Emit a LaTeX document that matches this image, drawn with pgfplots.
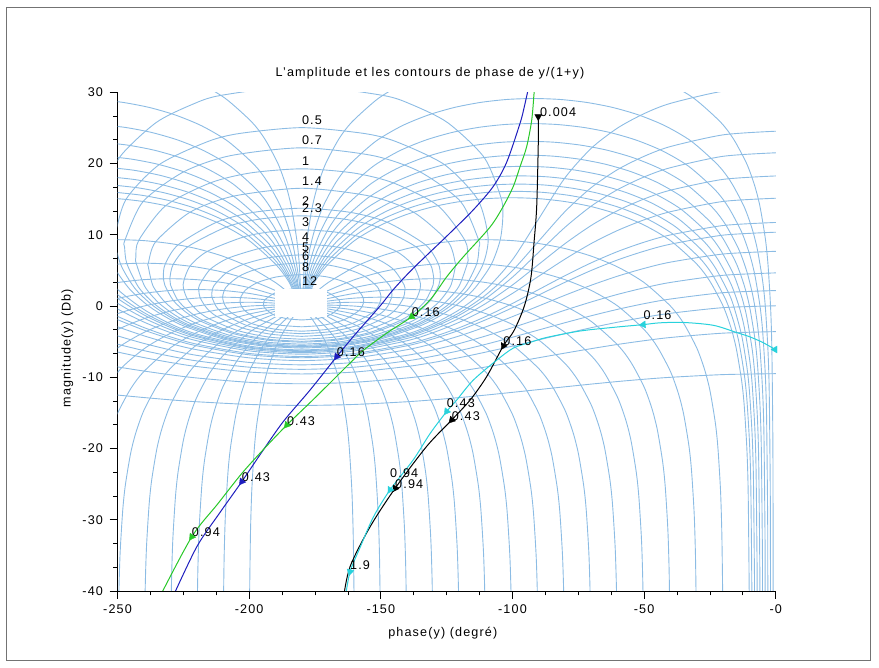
\documentclass[border=0pt]{standalone}
\usepackage{fontspec}
\setmainfont{Liberation Sans}[LetterSpace=9]
\usepackage{pgfplots}
\pgfplotsset{compat=1.18}
\definecolor{gridc}{RGB}{140,188,228}
\definecolor{cblue}{RGB}{30,30,190}
\definecolor{cgreen}{RGB}{40,200,40}
\definecolor{ccyan}{RGB}{40,210,220}
\newcommand\lbl{\fontsize{12.6}{14}\selectfont}
\begin{document}
\begin{tikzpicture}
\path[use as bounding box] (0,0) rectangle (879pt,668pt);
\draw[black!55, line width=0.8pt] (6.7pt,7.6pt) rectangle (870.5pt,660.3pt);
\begin{axis}[
  at={(117.5pt,77pt)}, anchor=south west,
  scale only axis, width=658.3pt, height=498.6pt,
  xmin=-250, xmax=0, ymin=-40, ymax=30,
  axis lines=left,
  axis line style={-, black, line width=0.8pt},
  xtick={-250,-200,-150,-100,-50,0},
  xticklabels={-250,-200,-150,-100,-50,-0},
  ytick={-40,-30,-20,-10,0,10,20,30},
  yticklabels={-40,-30,-20,-10,0,10,20,30},
  minor x tick num=3, minor y tick num=2,
  tick align=outside,
  major tick length=8pt, minor tick length=4.5pt,
  tick style={black, line width=0.8pt},
  ticklabel style={font=\lbl},
  xticklabel style={yshift=-2pt},
  yticklabel style={xshift=-3pt},
  /pgf/number format/assume math mode=true,
  clip=true,
  gc/.style={color=gridc, line width=0.9pt, smooth, tension=0.45, no marks},
  dc/.style={line width=1pt, smooth, tension=0.5, no marks},
  mk/.style={only marks, mark=triangle*, mark size=4pt},
]
% ---- closed-loop gain contours, M > 1
\addplot[gc] coordinates {(-180,-5.90)(-165.22,-5.60)(-150.48,-4.65)(-135.82,-2.89)(-128.58,-1.59)(-121.43,0.12)(-114.48,2.44)(-108.07,5.83)(-104.67,9.28)(-103.67,12.52)(-104.34,15.18)(-110.74,20.86)(-124.65,25.76)(-138.46,28.32)(-149.27,29.58)(-180,30.94)(-210.73,29.58)(-221.54,28.32)(-235.35,25.76)(-249.26,20.86)(-255.66,15.18)(-256.33,12.52)(-255.33,9.28)(-251.93,5.83)(-245.52,2.44)(-238.57,0.12)(-231.42,-1.59)(-224.18,-2.89)(-209.52,-4.65)(-194.78,-5.60)(-180,-5.90)};
\addplot[gc] coordinates {(-180,-5.77)(-165.44,-5.47)(-150.95,-4.53)(-136.65,-2.77)(-129.65,-1.47)(-122.86,0.24)(-116.47,2.55)(-111.13,5.92)(-109.26,9.64)(-113.21,14.97)(-125.89,19.87)(-144.08,23.07)(-156.29,24.23)(-180,25.05)(-203.71,24.23)(-215.92,23.07)(-234.11,19.87)(-246.79,14.97)(-250.74,9.64)(-248.87,5.92)(-243.53,2.55)(-237.14,0.24)(-230.35,-1.47)(-223.35,-2.77)(-209.05,-4.53)(-194.56,-5.47)(-180,-5.77)};
\addplot[gc] coordinates {(-180,-5.68)(-165.62,-5.38)(-151.34,-4.43)(-137.30,-2.67)(-130.50,-1.38)(-124.00,0.32)(-118.05,2.62)(-113.55,5.97)(-112.70,8.27)(-112.87,9.31)(-119.72,14.68)(-135.19,18.86)(-152.80,21.11)(-180,22.22)(-207.20,21.11)(-224.81,18.86)(-240.28,14.68)(-247.13,9.31)(-247.30,8.27)(-246.45,5.97)(-241.95,2.62)(-236.00,0.32)(-229.50,-1.38)(-222.70,-2.67)(-208.66,-4.43)(-194.38,-5.38)(-180,-5.68)};
\addplot[gc] coordinates {(-180,-5.53)(-165.88,-5.23)(-151.90,-4.29)(-138.29,-2.54)(-131.78,-1.25)(-125.69,0.44)(-120.41,2.73)(-117.10,6.01)(-116.97,6.87)(-118.06,9.23)(-128.32,14.10)(-145.29,17.30)(-160.47,18.69)(-180,19.27)(-199.53,18.69)(-214.71,17.30)(-231.68,14.10)(-241.94,9.23)(-243.03,6.87)(-242.90,6.01)(-239.59,2.73)(-234.31,0.44)(-228.22,-1.25)(-221.71,-2.54)(-208.10,-4.29)(-194.12,-5.23)(-180,-5.53)};
\addplot[gc] coordinates {(-180,-5.35)(-166.23,-5.05)(-152.66,-4.11)(-139.60,-2.37)(-133.48,-1.09)(-127.93,0.59)(-123.49,2.83)(-121.66,5.60)(-121.70,6.02)(-124.52,9.04)(-137.59,13.19)(-154.00,15.43)(-180,16.54)(-206.00,15.43)(-222.41,13.19)(-235.48,9.04)(-238.30,6.02)(-238.34,5.60)(-236.51,2.83)(-232.07,0.59)(-226.52,-1.09)(-220.40,-2.37)(-207.34,-4.11)(-193.77,-5.05)(-180,-5.35)};
\addplot[gc] coordinates {(-180,-5.08)(-166.76,-4.78)(-153.79,-3.85)(-141.54,-2.12)(-136.00,-0.86)(-131.23,0.77)(-127.97,2.94)(-127.42,4.33)(-128.16,5.93)(-133.02,8.60)(-147.65,11.78)(-161.65,13.16)(-180,13.74)(-198.35,13.16)(-212.35,11.78)(-226.98,8.60)(-231.84,5.93)(-232.58,4.33)(-232.03,2.94)(-228.77,0.77)(-224.00,-0.86)(-218.46,-2.12)(-206.21,-3.85)(-193.24,-4.78)(-180,-5.08)};
\addplot[gc] coordinates {(-180,-4.95)(-167.02,-4.65)(-154.35,-3.72)(-142.50,-2.01)(-137.23,-0.76)(-132.85,0.85)(-130.12,2.98)(-129.88,3.86)(-131.16,5.85)(-136.74,8.34)(-151.39,11.11)(-164.15,12.22)(-180,12.67)(-195.85,12.22)(-208.61,11.11)(-223.26,8.34)(-228.84,5.85)(-230.12,3.86)(-229.88,2.98)(-227.15,0.85)(-222.77,-0.76)(-217.50,-2.01)(-205.65,-3.72)(-192.98,-4.65)(-180,-4.95)};
\addplot[gc] coordinates {(-180,-4.65)(-167.62,-4.36)(-155.64,-3.44)(-144.70,-1.76)(-140.06,-0.55)(-136.50,1.01)(-134.93,3.02)(-137.54,5.61)(-144.12,7.68)(-157.91,9.71)(-168.18,10.43)(-180,10.69)(-191.82,10.43)(-202.09,9.71)(-215.88,7.68)(-222.46,5.61)(-225.07,3.02)(-223.50,1.01)(-219.94,-0.55)(-215.30,-1.76)(-204.36,-3.44)(-192.38,-4.36)(-180,-4.65)};
\addplot[gc] coordinates {(-180,-4.25)(-168.47,-3.96)(-157.45,-3.07)(-147.75,-1.46)(-143.93,-0.30)(-141.40,1.15)(-140.88,2.20)(-141.14,2.96)(-145.18,5.15)(-152.07,6.73)(-163.86,8.09)(-171.58,8.51)(-180,8.66)(-188.42,8.51)(-196.14,8.09)(-207.93,6.73)(-214.82,5.15)(-218.86,2.96)(-219.12,2.20)(-218.60,1.15)(-216.07,-0.30)(-212.25,-1.46)(-202.55,-3.07)(-191.53,-3.96)(-180,-4.25)};
\addplot[gc] coordinates {(-180,-3.88)(-169.29,-3.60)(-159.19,-2.74)(-150.65,-1.19)(-147.55,-0.11)(-145.88,1.23)(-145.78,1.65)(-146.57,2.83)(-151.27,4.66)(-157.81,5.86)(-167.66,6.81)(-180,7.18)(-192.34,6.81)(-202.19,5.86)(-208.73,4.66)(-213.43,2.83)(-214.22,1.65)(-214.12,1.23)(-212.45,-0.11)(-209.35,-1.19)(-200.81,-2.74)(-190.71,-3.60)(-180,-3.88)};
\addplot[gc] coordinates {(-180,-3.53)(-170.09,-3.26)(-160.86,-2.44)(-153.38,-0.97)(-150.91,0.04)(-149.92,1.26)(-151.23,2.66)(-156.11,4.17)(-162.05,5.10)(-170.25,5.78)(-180,6.04)(-189.75,5.78)(-197.95,5.10)(-203.89,4.17)(-208.77,2.66)(-210.08,1.26)(-209.09,0.04)(-206.62,-0.97)(-199.14,-2.44)(-189.91,-3.26)(-180,-3.53)};
\addplot[gc] coordinates {(-180,-2.91)(-171.58,-2.67)(-163.96,-1.92)(-158.30,-0.64)(-156.79,0.21)(-156.54,0.75)(-156.71,1.19)(-158.61,2.25)(-163.10,3.29)(-170.50,4.10)(-180,4.41)(-189.50,4.10)(-196.90,3.29)(-201.39,2.25)(-203.29,1.19)(-203.46,0.75)(-203.21,0.21)(-201.70,-0.64)(-196.04,-1.92)(-188.42,-2.67)(-180,-2.91)};
\addplot[gc] coordinates {(-180,-1.95)(-174.11,-1.76)(-169.06,-1.19)(-165.90,-0.27)(-165.45,0.28)(-166.03,0.91)(-170.88,2.02)(-180,2.51)(-189.12,2.02)(-193.97,0.91)(-194.55,0.28)(-194.10,-0.27)(-190.94,-1.19)(-185.89,-1.76)(-180,-1.95)};
% ---- closed-loop gain contours, M < 1
\addplot[gc] coordinates {(-260,6.51)(-250,2.36)(-240,-0.47)(-230,-2.48)(-220,-3.92)(-200,-5.62)(-180,-6.15)(-160,-5.62)(-140,-3.92)(-130,-2.48)(-120,-0.47)(-110,2.36)(-100,6.51)(-90,12.27)(-80,18.04)(-70,22.18)(-60,25.02)(-50,27.02)(-40,28.46)(-20,30.17)(0,30.69)};
\addplot[gc] coordinates {(-260,4.98)(-250,1.61)(-240,-0.91)(-230,-2.76)(-220,-4.13)(-200,-5.77)(-180,-6.27)(-160,-5.77)(-140,-4.13)(-130,-2.76)(-120,-0.91)(-110,1.61)(-100,4.98)(-90,9.14)(-80,13.29)(-70,16.66)(-60,19.18)(-50,21.03)(-40,22.40)(-20,24.04)(0,24.55)};
\addplot[gc] coordinates {(-260,4.06)(-250,1.09)(-240,-1.23)(-230,-2.98)(-220,-4.29)(-200,-5.88)(-180,-6.38)(-160,-5.88)(-140,-4.29)(-130,-2.98)(-120,-1.23)(-110,1.09)(-100,4.06)(-90,7.57)(-80,11.08)(-70,14.06)(-60,16.37)(-50,18.13)(-40,19.43)(-20,21.03)(0,21.52)};
\addplot[gc] coordinates {(-260,2.96)(-250,0.40)(-240,-1.68)(-230,-3.30)(-220,-4.54)(-200,-6.06)(-180,-6.54)(-160,-6.06)(-140,-4.54)(-130,-3.30)(-120,-1.68)(-110,0.40)(-100,2.96)(-90,5.87)(-80,8.78)(-70,11.34)(-60,13.42)(-50,15.04)(-40,16.27)(-20,17.79)(0,18.27)};
\addplot[gc] coordinates {(-260,1.78)(-250,-0.40)(-240,-2.24)(-230,-3.71)(-220,-4.86)(-200,-6.29)(-180,-6.75)(-160,-6.29)(-140,-4.86)(-130,-3.71)(-120,-2.24)(-110,-0.40)(-100,1.78)(-90,4.20)(-80,6.61)(-70,8.80)(-60,10.63)(-50,12.11)(-40,13.25)(-20,14.69)(0,15.14)};
\addplot[gc] coordinates {(-260,0.37)(-250,-1.44)(-240,-3.01)(-230,-4.31)(-220,-5.34)(-200,-6.65)(-180,-7.08)(-160,-6.65)(-140,-5.34)(-130,-4.31)(-120,-3.01)(-110,-1.44)(-100,0.37)(-90,2.33)(-80,4.28)(-70,6.09)(-60,7.67)(-50,8.97)(-40,9.99)(-20,11.31)(0,11.74)};
\addplot[gc] coordinates {(-260,-0.23)(-250,-1.90)(-240,-3.37)(-230,-4.59)(-220,-5.57)(-200,-6.84)(-180,-7.25)(-160,-6.84)(-140,-5.57)(-130,-4.59)(-120,-3.37)(-110,-1.90)(-100,-0.23)(-90,1.56)(-80,3.35)(-70,5.02)(-60,6.49)(-50,7.71)(-40,8.69)(-20,9.96)(0,10.37)};
\addplot[gc] coordinates {(-260,-1.48)(-250,-2.90)(-240,-4.17)(-230,-5.25)(-220,-6.12)(-200,-7.27)(-180,-7.65)(-160,-7.27)(-140,-6.12)(-130,-5.25)(-120,-4.17)(-110,-2.90)(-100,-1.48)(-90,0.02)(-80,1.53)(-70,2.94)(-60,4.21)(-50,5.29)(-40,6.17)(-20,7.31)(0,7.69)};
\addplot[gc] coordinates {(-260,-3.02)(-250,-4.18)(-240,-5.24)(-230,-6.15)(-220,-6.91)(-200,-7.91)(-180,-8.25)(-160,-7.91)(-140,-6.91)(-130,-6.15)(-120,-5.24)(-110,-4.18)(-100,-3.02)(-90,-1.80)(-80,-0.57)(-70,0.59)(-60,1.65)(-50,2.56)(-40,3.32)(-20,4.32)(0,4.66)};
\addplot[gc] coordinates {(-260,-4.37)(-250,-5.35)(-240,-6.25)(-230,-7.03)(-220,-7.69)(-200,-8.58)(-180,-8.88)(-160,-8.58)(-140,-7.69)(-130,-7.03)(-120,-6.25)(-110,-5.35)(-100,-4.37)(-90,-3.35)(-80,-2.33)(-70,-1.35)(-60,-0.45)(-50,0.34)(-40,0.99)(-20,1.88)(0,2.18)};
\addplot[gc] coordinates {(-260,-5.62)(-250,-6.45)(-240,-7.23)(-230,-7.91)(-220,-8.48)(-200,-9.26)(-180,-9.53)(-160,-9.26)(-140,-8.48)(-130,-7.91)(-120,-7.23)(-110,-6.45)(-100,-5.62)(-90,-4.74)(-80,-3.87)(-70,-3.03)(-60,-2.26)(-50,-1.58)(-40,-1.01)(-20,-0.22)(0,0.04)};
\addplot[gc] coordinates {(-260,-7.90)(-250,-8.54)(-240,-9.12)(-230,-9.64)(-220,-10.09)(-200,-10.70)(-180,-10.91)(-160,-10.70)(-140,-10.09)(-130,-9.64)(-120,-9.12)(-110,-8.54)(-100,-7.90)(-90,-7.25)(-80,-6.60)(-70,-5.97)(-60,-5.38)(-50,-4.86)(-40,-4.41)(-20,-3.80)(0,-3.59)};
\addplot[gc] coordinates {(-260,-12.11)(-250,-12.49)(-240,-12.84)(-230,-13.16)(-220,-13.43)(-200,-13.81)(-180,-13.95)(-160,-13.81)(-140,-13.43)(-130,-13.16)(-120,-12.84)(-110,-12.49)(-100,-12.11)(-90,-11.72)(-80,-11.33)(-70,-10.95)(-60,-10.59)(-50,-10.27)(-40,-10.00)(-20,-9.62)(0,-9.49)};
% ---- closed-loop phase contours
\addplot[gc] coordinates {(-1.005,-46)(-1.01,-40)(-1.1,-20)(-1.5,-6.02)(-2,0)(-3,6.02)(-4,9.54)(-6,13.97)(-8,16.88)(-11,19.95)(-16,23.42)(-21,25.84)(-31,29.14)(-41,31.32)(-51,32.84)(-61,33.91)(-71,34.62)(-81,35.03)(-91,35.16)(-101,35.03)(-111,34.62)(-121,33.91)(-131,32.84)(-141,31.32)(-151,29.14)(-161,25.84)(-166,23.42)(-171,19.95)(-174,16.88)(-176,13.97)(-178,9.54)(-179,6.02)(-180,0)(-181,6.02)(-182,9.54)(-184,13.97)(-186,16.88)(-189,19.95)(-194,23.42)(-199,25.84)(-209,29.14)(-219,31.32)(-229,32.84)};
\addplot[gc] coordinates {(-2.01,-46.02)(-2.02,-40)(-2.1,-26.02)(-2.5,-12.04)(-3,-6.02)(-4,0)(-5,3.52)(-7,7.95)(-9,10.86)(-12,13.93)(-17,17.40)(-22,19.82)(-32,23.12)(-42,25.30)(-52,26.82)(-62,27.89)(-72,28.60)(-82,29.01)(-92,29.14)(-102,29.01)(-112,28.60)(-122,27.89)(-132,26.82)(-142,25.30)(-152,23.12)(-162,19.82)(-167,17.40)(-172,13.93)(-175,10.86)(-177,7.95)(-179,3.52)(-180,0)(-181,3.52)(-183,7.95)(-185,10.86)(-188,13.93)(-193,17.40)(-198,19.82)(-208,23.12)(-218,25.30)(-228,26.82)(-238,27.89)(-248,28.60)(-258,29.01)};
\addplot[gc] coordinates {(-3.02,-43.52)(-3.05,-35.56)(-3.1,-29.54)(-3.5,-15.56)(-4,-9.54)(-5,-3.52)(-6,0)(-8,4.43)(-10,7.34)(-13,10.41)(-18,13.88)(-23,16.30)(-33,19.60)(-43,21.78)(-53,23.30)(-63,24.37)(-73,25.08)(-83,25.49)(-93,25.62)(-103,25.49)(-113,25.08)(-123,24.37)(-133,23.30)(-143,21.78)(-153,19.60)(-163,16.30)(-168,13.88)(-173,10.41)(-176,7.34)(-178,4.43)(-180,0)(-182,4.43)(-184,7.34)(-187,10.41)(-192,13.88)(-197,16.30)(-207,19.60)(-217,21.78)(-227,23.30)(-237,24.37)(-247,25.08)(-257,25.49)};
\addplot[gc] coordinates {(-4.02,-46.01)(-4.05,-38.05)(-4.1,-32.03)(-4.5,-18.05)(-5,-12.03)(-6,-6.01)(-7,-2.49)(-8,0)(-9,1.94)(-11,4.85)(-14,7.92)(-19,11.39)(-24,13.81)(-34,17.11)(-44,19.29)(-54,20.81)(-64,21.88)(-74,22.59)(-84,23.00)(-94,23.13)(-104,23.00)(-114,22.59)(-124,21.88)(-134,20.81)(-144,19.29)(-154,17.11)(-164,13.81)(-169,11.39)(-174,7.92)(-177,4.85)(-179,1.94)(-180,0)(-181,1.94)(-183,4.85)(-186,7.92)(-191,11.39)(-196,13.81)(-206,17.11)(-216,19.29)(-226,20.81)(-236,21.88)(-246,22.59)(-256,23.00)};
\addplot[gc] coordinates {(-5.02,-47.95)(-5.05,-39.99)(-5.1,-33.97)(-5.5,-19.99)(-6,-13.97)(-7,-7.95)(-8,-4.43)(-10,0)(-12,2.91)(-15,5.98)(-20,9.45)(-25,11.87)(-35,15.17)(-45,17.35)(-55,18.87)(-65,19.94)(-75,20.65)(-85,21.06)(-95,21.19)(-105,21.06)(-115,20.65)(-125,19.94)(-135,18.87)(-145,17.35)(-155,15.17)(-165,11.87)(-170,9.45)(-175,5.98)(-178,2.91)(-180,0)(-182,2.91)(-185,5.98)(-190,9.45)(-195,11.87)(-205,15.17)(-215,17.35)(-225,18.87)(-235,19.94)(-245,20.65)(-255,21.06)};
\addplot[gc] coordinates {(-6.03,-46.0)(-6.06,-40)(-6.1,-35.54)(-6.5,-21.56)(-7,-15.54)(-8,-9.52)(-9,-6.00)(-11,-1.57)(-12,0)(-13,1.34)(-16,4.41)(-21,7.88)(-26,10.30)(-36,13.60)(-46,15.78)(-56,17.30)(-66,18.37)(-76,19.08)(-86,19.49)(-96,19.62)(-106,19.49)(-116,19.08)(-126,18.37)(-136,17.30)(-146,15.78)(-156,13.60)(-166,10.30)(-171,7.88)(-176,4.41)(-179,1.34)(-180,0)(-181,1.34)(-184,4.41)(-189,7.88)(-194,10.30)(-204,13.60)(-214,15.78)(-224,17.30)(-234,18.37)(-244,19.08)(-254,19.49)};
\addplot[gc] coordinates {(-7.03,-47.34)(-7.07,-40)(-7.1,-36.88)(-7.5,-22.90)(-8,-16.88)(-9,-10.86)(-10,-7.34)(-12,-2.91)(-14,0)(-17,3.07)(-22,6.54)(-27,8.96)(-37,12.26)(-47,14.44)(-57,15.96)(-67,17.03)(-77,17.74)(-87,18.15)(-97,18.28)(-107,18.15)(-117,17.74)(-127,17.03)(-137,15.96)(-147,14.44)(-157,12.26)(-167,8.96)(-172,6.54)(-177,3.07)(-180,0)(-183,3.07)(-188,6.54)(-193,8.96)(-203,12.26)(-213,14.44)(-223,15.96)(-233,17.03)(-243,17.74)(-253,18.15)};
\addplot[gc] coordinates {(-8.03,-48.49)(-8.08,-40)(-8.1,-38.03)(-8.5,-24.05)(-9,-18.03)(-10,-12.01)(-11,-8.49)(-13,-4.06)(-16,0)(-18,1.92)(-23,5.39)(-28,7.81)(-38,11.11)(-48,13.29)(-58,14.81)(-68,15.88)(-78,16.59)(-88,17.00)(-98,17.13)(-108,17.00)(-118,16.59)(-128,15.88)(-138,14.81)(-148,13.29)(-158,11.11)(-168,7.81)(-173,5.39)(-178,1.92)(-180,0)(-182,1.92)(-187,5.39)(-192,7.81)(-202,11.11)(-212,13.29)(-222,14.81)(-232,15.88)(-242,16.59)(-252,17.00)};
\addplot[gc] coordinates {(-9.03,-49.51)(-9.09,-40)(-9.5,-25.07)(-10,-19.05)(-11,-13.03)(-12,-9.51)(-14,-5.08)(-16,-2.17)(-18,0)(-19,0.90)(-24,4.37)(-29,6.79)(-39,10.09)(-49,12.27)(-59,13.79)(-69,14.86)(-79,15.57)(-89,15.98)(-99,16.11)(-109,15.98)(-119,15.57)(-129,14.86)(-139,13.79)(-149,12.27)(-159,10.09)(-169,6.79)(-174,4.37)(-179,0.90)(-180,0)(-181,0.90)(-186,4.37)(-191,6.79)(-201,10.09)(-211,12.27)(-221,13.79)(-231,14.86)(-241,15.57)(-251,15.98)};
\addplot[gc] coordinates {(-10.05,-45.97)(-10.1,-39.95)(-10.5,-25.97)(-11,-19.95)(-12,-13.93)(-13,-10.41)(-15,-5.98)(-17,-3.07)(-20,0)(-25,3.47)(-30,5.89)(-40,9.19)(-50,11.37)(-60,12.89)(-70,13.96)(-80,14.67)(-90,15.08)(-100,15.21)(-110,15.08)(-120,14.67)(-130,13.96)(-140,12.89)(-150,11.37)(-160,9.19)(-170,5.89)(-175,3.47)(-180,0)(-185,3.47)(-190,5.89)(-200,9.19)(-210,11.37)(-220,12.89)(-230,13.96)(-240,14.67)(-250,15.08)(-260,15.21)};
\addplot[gc] coordinates {(-20.1,-45.84)(-20.2,-39.82)(-20.5,-31.86)(-21,-25.84)(-22,-19.82)(-23,-16.30)(-25,-11.87)(-27,-8.96)(-30,-5.89)(-35,-2.42)(-40,0)(-50,3.30)(-60,5.48)(-70,7.00)(-80,8.07)(-90,8.78)(-100,9.19)(-110,9.32)(-120,9.19)(-130,8.78)(-140,8.07)(-150,7.00)(-160,5.48)(-170,3.30)(-175,1.84)(-178,0.79)(-180,0)(-182,0.79)(-185,1.84)(-190,3.30)(-200,5.48)(-210,7.00)(-220,8.07)(-230,8.78)(-240,9.19)(-250,9.32)(-260,9.19)};
\addplot[gc] coordinates {(-30.2,-43.12)(-30.5,-35.16)(-31,-29.14)(-32,-23.12)(-33,-19.60)(-35,-15.17)(-37,-12.26)(-40,-9.19)(-45,-5.72)(-50,-3.30)(-60,0)(-70,2.18)(-80,3.70)(-90,4.77)(-100,5.48)(-110,5.89)(-120,6.02)(-130,5.89)(-140,5.48)(-150,4.77)(-160,3.70)(-170,2.18)(-175,1.19)(-180,0)(-185,1.19)(-190,2.18)(-200,3.70)(-210,4.77)(-220,5.48)(-230,5.89)(-240,6.02)(-250,5.89)(-260,5.48)};
\addplot[gc] coordinates {(-40.2,-45.30)(-40.5,-37.34)(-41,-31.32)(-42,-25.30)(-43,-21.78)(-45,-17.35)(-47,-14.44)(-50,-11.37)(-55,-7.90)(-60,-5.48)(-70,-2.18)(-80,0)(-90,1.52)(-100,2.59)(-110,3.30)(-120,3.71)(-130,3.84)(-140,3.71)(-150,3.30)(-160,2.59)(-170,1.52)(-175,0.83)(-180,0)(-185,0.83)(-190,1.52)(-200,2.59)(-210,3.30)(-220,3.71)(-230,3.84)(-240,3.71)(-250,3.30)(-260,2.59)};
\addplot[gc] coordinates {(-50.2,-46.82)(-50.5,-38.86)(-51,-32.84)(-52,-26.82)(-53,-23.30)(-55,-18.87)(-57,-15.96)(-60,-12.89)(-65,-9.42)(-70,-7.00)(-80,-3.70)(-90,-1.52)(-100,0)(-110,1.07)(-120,1.78)(-130,2.19)(-140,2.32)(-150,2.19)(-160,1.78)(-170,1.07)(-175,0.59)(-180,0)(-185,0.59)(-190,1.07)(-200,1.78)(-210,2.19)(-220,2.32)(-230,2.19)(-240,1.78)(-250,1.07)(-260,0)};
\addplot[gc] coordinates {(-60.2,-47.89)(-60.5,-39.93)(-61,-33.91)(-62,-27.89)(-63,-24.37)(-65,-19.94)(-67,-17.03)(-70,-13.96)(-75,-10.49)(-80,-8.07)(-90,-4.77)(-100,-2.59)(-110,-1.07)(-120,0)(-130,0.71)(-140,1.12)(-150,1.25)(-160,1.12)(-170,0.71)(-175,0.40)(-180,0)(-185,0.40)(-190,0.71)(-200,1.12)(-210,1.25)(-220,1.12)(-230,0.71)(-240,0)(-250,-1.07)(-260,-2.59)};
\addplot[gc] coordinates {(-70.2,-48.60)(-70.5,-40.64)(-71,-34.62)(-72,-28.60)(-73,-25.08)(-75,-20.65)(-77,-17.74)(-80,-14.67)(-85,-11.20)(-90,-8.78)(-100,-5.48)(-110,-3.30)(-120,-1.78)(-130,-0.71)(-140,0)(-150,0.41)(-160,0.54)(-170,0.41)(-180,0)(-190,0.41)(-200,0.54)(-210,0.41)(-220,0)(-230,-0.71)(-240,-1.78)(-250,-3.30)(-260,-5.48)};
\addplot[gc] coordinates {(-80.2,-49.01)(-80.5,-41.05)(-81,-35.03)(-82,-29.01)(-83,-25.49)(-85,-21.06)(-87,-18.15)(-90,-15.08)(-95,-11.61)(-100,-9.19)(-110,-5.89)(-120,-3.71)(-130,-2.19)(-140,-1.12)(-150,-0.41)(-160,0)(-170,0.13)(-180,0)(-190,0.13)(-200,0)(-210,-0.41)(-220,-1.12)(-230,-2.19)(-240,-3.71)(-250,-5.89)(-260,-9.19)};
\addplot[gc] coordinates {(-90.2,-49.14)(-90.5,-41.18)(-91,-35.16)(-92,-29.14)(-93,-25.62)(-95,-21.19)(-97,-18.28)(-100,-15.21)(-105,-11.74)(-110,-9.32)(-120,-6.02)(-130,-3.84)(-140,-2.32)(-150,-1.25)(-160,-0.54)(-170,-0.13)(-180,0)(-190,-0.13)(-200,-0.54)(-210,-1.25)(-220,-2.32)(-230,-3.84)(-240,-6.02)(-250,-9.32)(-260,-15.21)};
\addplot[gc] coordinates {(-100.2,-49.01)(-100.5,-41.05)(-101,-35.03)(-102,-29.01)(-103,-25.49)(-105,-21.06)(-107,-18.15)(-110,-15.08)(-115,-11.61)(-120,-9.19)(-130,-5.89)(-140,-3.71)(-150,-2.19)(-160,-1.12)(-170,-0.41)(-175,-0.17)(-180,0)(-185,-0.17)(-190,-0.41)(-200,-1.12)(-210,-2.19)(-220,-3.71)(-230,-5.89)(-240,-9.19)(-245,-11.61)(-250,-15.08)(-253,-18.15)(-255,-21.06)};
\addplot[gc] coordinates {(-110.2,-48.60)(-110.5,-40.64)(-111,-34.62)(-112,-28.60)(-113,-25.08)(-115,-20.65)(-117,-17.74)(-120,-14.67)(-125,-11.20)(-130,-8.78)(-140,-5.48)(-150,-3.30)(-160,-1.78)(-170,-0.71)(-175,-0.31)(-180,0)(-185,-0.31)(-190,-0.71)(-200,-1.78)(-210,-3.30)(-220,-5.48)(-230,-8.78)(-235,-11.20)(-240,-14.67)(-243,-17.74)(-245,-20.65)(-247,-25.08)(-248,-28.60)(-249,-34.62)(-249.5,-40.64)(-249.8,-48.60)};
\addplot[gc] coordinates {(-120.2,-47.89)(-120.5,-39.93)(-121,-33.91)(-122,-27.89)(-123,-24.37)(-125,-19.94)(-127,-17.03)(-130,-13.96)(-135,-10.49)(-140,-8.07)(-150,-4.77)(-160,-2.59)(-170,-1.07)(-175,-0.48)(-180,0)(-185,-0.48)(-190,-1.07)(-200,-2.59)(-210,-4.77)(-220,-8.07)(-225,-10.49)(-230,-13.96)(-233,-17.03)(-235,-19.94)(-237,-24.37)(-238,-27.89)(-239,-33.91)(-239.5,-39.93)(-239.8,-47.89)};
\addplot[gc] coordinates {(-130.2,-46.82)(-130.5,-38.86)(-131,-32.84)(-132,-26.82)(-133,-23.30)(-135,-18.87)(-137,-15.96)(-140,-12.89)(-145,-9.42)(-150,-7.00)(-160,-3.70)(-170,-1.52)(-175,-0.69)(-180,0)(-185,-0.69)(-190,-1.52)(-200,-3.70)(-210,-7.00)(-215,-9.42)(-220,-12.89)(-223,-15.96)(-225,-18.87)(-227,-23.30)(-228,-26.82)(-229,-32.84)(-229.5,-38.86)(-229.8,-46.82)};
\addplot[gc] coordinates {(-140.2,-45.30)(-140.5,-37.34)(-141,-31.32)(-142,-25.30)(-143,-21.78)(-145,-17.35)(-147,-14.44)(-150,-11.37)(-155,-7.90)(-160,-5.48)(-165,-3.64)(-170,-2.18)(-175,-0.99)(-180,0)(-185,-0.99)(-190,-2.18)(-195,-3.64)(-200,-5.48)(-205,-7.90)(-210,-11.37)(-213,-14.44)(-215,-17.35)(-217,-21.78)(-218,-25.30)(-219,-31.32)(-219.5,-37.34)(-219.8,-45.30)};
\addplot[gc] coordinates {(-150.2,-43.12)(-150.5,-35.16)(-151,-29.14)(-152,-23.12)(-153,-19.60)(-155,-15.17)(-157,-12.26)(-160,-9.19)(-165,-5.72)(-170,-3.30)(-175,-1.46)(-180,0)(-185,-1.46)(-190,-3.30)(-195,-5.72)(-200,-9.19)(-203,-12.26)(-205,-15.17)(-207,-19.60)(-208,-23.12)(-209,-29.14)(-209.5,-35.16)(-209.8,-43.12)};
\addplot[gc] coordinates {(-160.1,-45.84)(-160.2,-39.82)(-160.5,-31.86)(-161,-25.84)(-162,-19.82)(-163,-16.30)(-165,-11.87)(-167,-8.96)(-170,-5.89)(-172,-4.32)(-175,-2.42)(-178,-0.88)(-180,0)(-182,-0.88)(-185,-2.42)(-188,-4.32)(-190,-5.89)(-193,-8.96)(-195,-11.87)(-197,-16.30)(-198,-19.82)(-199,-25.84)(-199.5,-31.86)(-199.8,-39.82)(-199.9,-45.84)};
% ---- blank centre
\fill[white] (axis cs:-190.3,2.4) rectangle (axis cs:-170.6,-1.5);
% ---- gain labels
\foreach \g/\t in {25.05/0.5,22.22/0.7,19.27/1,16.54/1.4,13.74/2,12.67/2.3,10.69/3,8.66/4,7.18/5,6.04/6,4.41/8,2.51/12}{
  \edef\temp{\noexpand\node[anchor=base west, inner sep=0pt, yshift=3pt, font=\noexpand\lbl] at (axis cs:-180,\g) {\t};}
  \temp
}
% ---- data curves
\addplot[dc, cblue] coordinates {(-229.2,-41)(-219.9,-33.8)(-211.5,-29.2)(-202.8,-24.65)(-195,-20.4)(-187,-16.2)(-176.9,-11.8)(-166.75,-7.1)(-159.8,-4.0)(-150.3,0)(-145.3,2.3)(-137.7,5.3)(-125,9.8)(-114.9,13.5)(-107.3,16.8)(-102.2,20.2)(-97.1,25.7)(-95.5,28)(-94,30.5)};
\addplot[dc, cgreen] coordinates {(-234.2,-41)(-221.8,-32.4)(-212,-27.8)(-202.8,-23.5)(-194,-19.9)(-185.7,-16.7)(-177,-13.6)(-169.3,-10.8)(-161.7,-8.0)(-156.6,-6.2)(-147,-3.6)(-138.3,-1.5)(-131,1.0)(-125,4.1)(-118.7,6.9)(-108.5,11.1)(-103.5,14.0)(-99.7,16.8)(-97.1,19.6)(-94.6,22.4)(-92.7,26.1)(-91.8,29.9)(-91.5,31)};
\addplot[dc, black] coordinates {(-90.2,26.6)(-90.2,22.9)(-90.8,14.0)(-91.8,9)(-93.0,4.0)(-95.5,0.0)(-99.5,-3.5)(-103.5,-5.6)(-109.8,-9.9)(-116.1,-13.2)(-123.1,-16.0)(-132.6,-19.7)(-144.6,-25.6)(-154.1,-31.0)(-161.7,-36.6)(-164.2,-41)};
\addplot[dc, ccyan] coordinates {(-0.2,-6.1)(-5,-5.1)(-10,-4.3)(-15,-3.7)(-23.7,-2.7)(-35,-2.3)(-44,-2.35)(-50.3,-2.6)(-62,-3.0)(-74.3,-3.5)(-87,-4.4)(-93.3,-5.1)(-99.7,-5.9)(-106,-7.6)(-114.9,-10.4)(-121.2,-13.2)(-125,-14.8)(-131.3,-17.9)(-137.7,-21.6)(-146.5,-25.8)(-152.8,-29.6)(-158,-34)(-161.7,-37.3)(-163.5,-41)};
% ---- frequency markers
\addplot[mk, cblue, mark options={rotate=143}] coordinates {(-202.8,-24.65)};
\addplot[mk, cblue, mark options={rotate=143}] coordinates {(-166.75,-7.1)};
\addplot[mk, cgreen, mark options={rotate=145}] coordinates {(-221.8,-32.4)};
\addplot[mk, cgreen, mark options={rotate=140}] coordinates {(-185.7,-16.7)};
\addplot[mk, cgreen, mark options={rotate=125}] coordinates {(-138.3,-1.5)};
\addplot[mk, black, mark options={rotate=180}] coordinates {(-90.2,26.6)};
\addplot[mk, black, mark options={rotate=151}] coordinates {(-103.5,-5.6)};
\addplot[mk, black, mark options={rotate=137}] coordinates {(-123.1,-16.0)};
\addplot[mk, black, mark options={rotate=147}] coordinates {(-144.6,-25.6)};
\addplot[mk, ccyan, mark options={rotate=95}] coordinates {(-50.3,-2.6)};
\addplot[mk, ccyan, mark options={rotate=143}] coordinates {(-125,-14.8)};
\addplot[mk, ccyan, mark options={rotate=148}] coordinates {(-146.5,-25.8)};
\addplot[mk, ccyan, mark options={rotate=167}] coordinates {(-161.7,-37.3)};
\addplot[mk, ccyan, mark options={rotate=90}] coordinates {(-0.3,-6.1)};
% ---- frequency labels
\node[anchor=base west, inner sep=0pt, font=\lbl] at (axis cs:-202.8,-24.65) {0.43};
\node[anchor=base west, inner sep=0pt, font=\lbl] at (axis cs:-166.75,-7.1) {0.16};
\node[anchor=base west, inner sep=0pt, font=\lbl] at (axis cs:-221.8,-32.4) {0.94};
\node[anchor=base west, inner sep=0pt, font=\lbl] at (axis cs:-185.7,-16.7) {0.43};
\node[anchor=base west, inner sep=0pt, font=\lbl] at (axis cs:-138.3,-1.5) {0.16};
\node[anchor=base west, inner sep=0pt, font=\lbl] at (axis cs:-89.6,26.6) {0.004};
\node[anchor=base west, inner sep=0pt, font=\lbl] at (axis cs:-103.5,-5.6) {0.16};
\node[anchor=base west, inner sep=0pt, font=\lbl] at (axis cs:-123.1,-16.0) {0.43};
\node[anchor=base west, inner sep=0pt, font=\lbl] at (axis cs:-144.6,-25.6) {0.94};
\node[anchor=base west, inner sep=0pt, font=\lbl] at (axis cs:-50.3,-1.9) {0.16};
\node[anchor=base west, inner sep=0pt, font=\lbl] at (axis cs:-125,-14.2) {0.43};
\node[anchor=base west, inner sep=0pt, font=\lbl] at (axis cs:-146.5,-24.1) {0.94};
\node[anchor=base west, inner sep=0pt, font=\lbl] at (axis cs:-161.7,-37.0) {1.9};
\end{axis}
\node[font=\lbl] at (430pt,594.3pt) {L'amplitude et les contours de phase de y/(1+y)};
\node[font=\lbl] at (442.8pt,34.4pt) {phase(y) (degré)};
\node[font=\lbl, rotate=90] at (67.3pt,319.7pt) {magnitude(y) (Db)};
\end{tikzpicture}
\end{document}
